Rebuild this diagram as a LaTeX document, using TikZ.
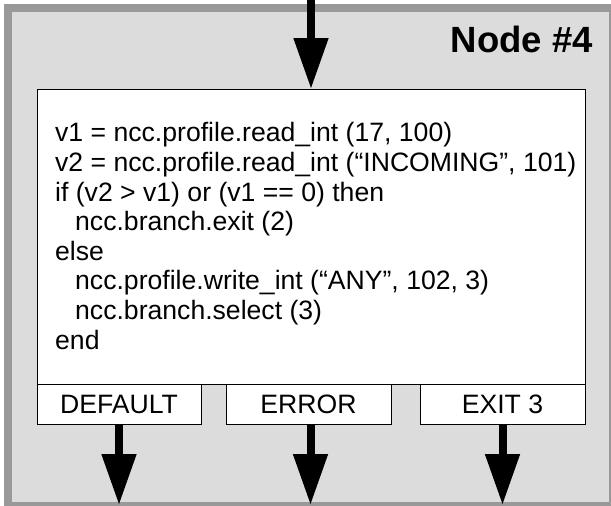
\documentclass[tikz,border=0pt]{standalone}
\usepackage{fontspec}
\setmainfont{Liberation Sans}
\usetikzlibrary{arrows.meta}
\definecolor{framegray}{HTML}{999999}
\definecolor{panelgray}{HTML}{DCDCDC}
\tikzset{
  box/.style={draw=black, fill=white, line width=1pt, inner sep=0pt, outer sep=0pt},
  portbox/.style={box, minimum height=40pt, font=\fontsize{26.6}{30}\selectfont},
  bigarrow/.style={line width=8pt, -{Triangle[width=33pt,length=51pt]}}
}
\begin{document}
\begin{tikzpicture}[x=1pt,y=-1pt]
\useasboundingbox (0,0) rectangle (611,506);
% frame
\fill[framegray] (4,4) rectangle (611,506);
\fill[panelgray] (12,12) rectangle (609,502);
% main box
\node[box, minimum width=548pt, minimum height=295pt, anchor=north west] (main) at (37,89) {};
\node[anchor=west, inner sep=0pt, align=left, font=\fontsize{26.6}{29.6}\selectfont] (code) at (55,236)
{v1 = ncc.profile.read\_int (17, 100)\\
v2 = ncc.profile.read\_int (“INCOMING”, 101)\\
if (v2 > v1) or (v1 == 0) then\\
\hspace*{20pt}ncc.branch.exit (2)\\
else\\
\hspace*{20pt}ncc.profile.write\_int (“ANY”, 102, 3)\\
\hspace*{20pt}ncc.branch.select (3)\\
end};
% title
\node[anchor=base east, inner sep=0pt, font=\fontsize{36.5}{40}\bfseries] (title) at (593,52) {Node \#4};
% ports
\node[portbox, minimum width=164pt, anchor=north west] (pdef) at (37,384) {DEFAULT};
\node[portbox, minimum width=165pt, anchor=north west] (perr) at (226,384) {ERROR};
\node[portbox, minimum width=165pt, anchor=north west] (pexit) at (420,384) {EXIT 3};
% arrows
\coordinate (in) at (main.north |- 0,0);
\coordinate (odef) at (pdef.south |- 0,505);
\coordinate (oerr) at (310.5,505);
\coordinate (oexit) at (502.5,505);
\draw[bigarrow] (in) -- (main.north);
\draw[bigarrow] (pdef.south) -- (odef);
\draw[bigarrow] (perr.south -| oerr) -- (oerr);
\draw[bigarrow] (pexit.south -| oexit) -- (oexit);
\end{tikzpicture}
\end{document}
